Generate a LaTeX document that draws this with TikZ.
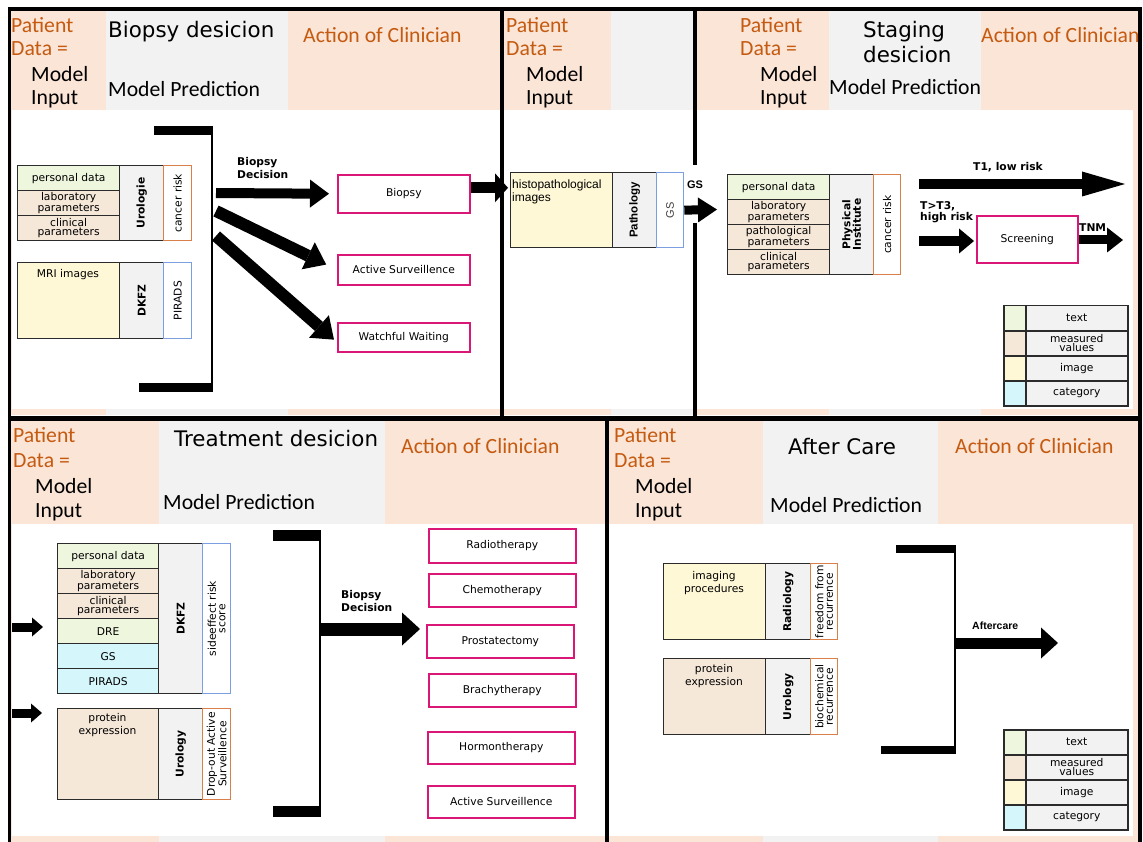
\documentclass[tikz,border=0pt]{standalone}
\usepackage{fontspec}
\setmainfont{DejaVu Sans}
\newfontfamily\calib{Carlito}
\newfontfamily\arialf{Liberation Sans}
\usetikzlibrary{arrows.meta,calc}
\definecolor{peach}{HTML}{FBE5D6}
\definecolor{lgray}{HTML}{F2F2F2}
\definecolor{hdrorange}{HTML}{C55A11}
\definecolor{ctext}{HTML}{EEF6DE}
\definecolor{cmeas}{HTML}{F6E8D9}
\definecolor{cimg}{HTML}{FEF8D6}
\definecolor{ccat}{HTML}{D5F6FA}
\definecolor{borange}{HTML}{D9804A}
\definecolor{bblue}{HTML}{7B9FE0}
\definecolor{bmag}{HTML}{DA1677}
\definecolor{boxline}{HTML}{2B2B2B}
\tikzset{
  hdr/.style={anchor=base west, inner sep=0pt, font=\calib\fontsize{21.7}{24}\selectfont},
  hdro/.style={hdr, text=hdrorange},
  ttl/.style={anchor=base west, inner sep=0pt, font=\fontsize{21.4}{24}\selectfont},
  cell/.style={draw=boxline, line width=1.3pt, anchor=north west, inner sep=0pt, align=center, font=\fontsize{10.7}{8.5}\selectfont},
  grayc/.style={cell, fill=lgray},
  pinkbox/.style={draw=bmag, line width=1.6pt, fill=white, anchor=north west, inner sep=0pt, font=\fontsize{10.7}{12}\selectfont},
  rlab/.style={rotate=90, inner sep=0pt, align=center, font=\fontsize{10.7}{9.5}\selectfont},
  rbold/.style={rotate=90, inner sep=0pt, align=center, font=\bfseries\fontsize{10.7}{11}\selectfont},
  blab/.style={anchor=base west, inner sep=0pt, font=\bfseries\fontsize{10.7}{12}\selectfont},
  txt/.style={inner sep=0pt, align=center, font=\fontsize{10.7}{13}\selectfont},
  bigarrow/.style n args={3}{draw=black, line width=#1, -{Triangle[length=#2, width=#3, line width=0pt]}},
  brbar/.style={fill=black},
  legc/.style={draw=boxline, line width=1.5pt, anchor=north west, inner sep=0pt, minimum width=22pt, minimum height=25pt},
  legl/.style={draw=boxline, line width=1.5pt, anchor=north west, inner sep=0pt, minimum width=102pt, minimum height=25pt, fill=lgray, align=center, font=\fontsize{10.7}{8.5}\selectfont},
}
\begin{document}
\begin{tikzpicture}[x=1pt,y=-1pt]
\useasboundingbox (0,0) rectangle (1143,842);
% ---------- backgrounds
\fill[peach] (11,11) rectangle (106,415);
\fill[lgray] (106,11) rectangle (288,415);
\fill[peach] (288,11) rectangle (501,415);
\fill[white] (12,110) rectangle (501,409);
\fill[peach] (503,11) rectangle (611,415);
\fill[lgray] (611,11) rectangle (694,415);
\fill[white] (503,110) rectangle (694,409);
\fill[peach] (696,11) rectangle (829,415);
\fill[lgray] (829,11) rectangle (981,415);
\fill[peach] (981,11) rectangle (1139,415);
\fill[white] (696,110) rectangle (1133,409);
\fill[peach] (11,421) rectangle (159,842);
\fill[lgray] (159,421) rectangle (385,842);
\fill[peach] (385,421) rectangle (606,842);
\fill[white] (12,524) rectangle (606,836);
\fill[peach] (609,421) rectangle (763,842);
\fill[lgray] (763,421) rectangle (938,842);
\fill[peach] (938,421) rectangle (1139,842);
\fill[white] (609,524) rectangle (1133,836);
% ---------- frames
\draw[line width=3.5pt] (8,9) -- (1141,9);
\draw[line width=3.5pt] (9.5,7.5) -- (9.5,842);
\fill (8,416) rectangle (1141,421);
\draw[line width=3.5pt] (502,9) -- (502,416);
\draw[line width=3.5pt] (695,9) -- (695,165);
\draw[line width=3.5pt] (695,223) -- (695,416);
\draw[line width=3.5pt] (1140,7.5) -- (1140,842);
\draw[line width=3.5pt] (607,421) -- (607,842);
% ---------- headers
\node[hdro] (h1a) at (11,33) {Patient};
\node[hdro] (h1b) at (11,56) {Data =};
\node[hdr] (h1c) at (31,82) {Model};
\node[hdr] (h1d) at (31,105) {Input};
\node[ttl] (h1t) at (108,38) {Biopsy desicion};
\node[hdr] (h1m) at (108,97) {Model Prediction};
\node[hdro] (h1o) at (303,43) {Action of Clinician};
\node[hdro] (h2a) at (506,33) {Patient};
\node[hdro] (h2b) at (506,56) {Data =};
\node[hdr] (h2c) at (526,82) {Model};
\node[hdr] (h2d) at (526,105) {Input};
\node[hdro] (h3a) at (740,33) {Patient};
\node[hdro] (h3b) at (740,56) {Data =};
\node[hdr] (h3c) at (760,82) {Model};
\node[hdr] (h3d) at (760,105) {Input};
\node[ttl] (h3t) at (863,38) {Staging};
\node[ttl] (h3u) at (863,63) {desicion};
\node[hdr] (h3m) at (829,95) {Model Prediction};
\node[hdro] (h3o) at (981,43) {Action of Clinician};
\node[hdro] (h4a) at (13,442) {Patient};
\node[hdro] (h4b) at (13,467) {Data =};
\node[hdr] (h4c) at (35,493) {Model};
\node[hdr] (h4d) at (35,517) {Input};
\node[ttl] (h4t) at (174,446) {Treatment desicion};
\node[hdr] (h4m) at (163,509) {Model Prediction};
\node[hdro] (h4o) at (401,453) {Action of Clinician};
\node[hdro] (h5a) at (614,442) {Patient};
\node[hdro] (h5b) at (614,467) {Data =};
\node[hdr] (h5c) at (635,493) {Model};
\node[hdr] (h5d) at (635,517) {Input};
\node[ttl] (h5t) at (788,454) {After Care};
\node[hdr] (h5m) at (770,512) {Model Prediction};
\node[hdro] (h5o) at (955,453) {Action of Clinician};
% ---------- panel 1
\node[cell, fill=ctext, minimum width=102pt, minimum height=25pt] (pd1) at (17,165) {personal data};
\node[cell, fill=cmeas, minimum width=102pt, minimum height=25pt] (lab1) at (17,190) {laboratory\\parameters};
\node[cell, fill=cmeas, minimum width=102pt, minimum height=25pt] (cl1) at (17,215) {clinical\\parameters};
\node[grayc, minimum width=44pt, minimum height=75pt] (uro1) at (119,165) {};
\node[rbold] (uro1t) at (uro1.center) {Urologie};
\node[cell, draw=borange, fill=white, minimum width=28pt, minimum height=75pt] (cr1) at (163,165) {};
\node[rlab] (cr1t) at (cr1.center) {cancer risk};
\node[cell, fill=cimg, minimum width=102pt, minimum height=76pt] (mri) at (17,262) {};
\node[txt] (mrit) at (68,275) {MRI images};
\node[grayc, minimum width=44pt, minimum height=76pt] (dkfz1) at (119,262) {};
\node[rbold] (dkfz1t) at (dkfz1.center) {DKFZ};
\node[cell, draw=bblue, fill=white, minimum width=28pt, minimum height=76pt] (pir1) at (163,262) {};
\node[rlab] (pir1t) at (pir1.center) {PIRADS};
\fill[brbar] (154,126) rectangle (213,135);
\fill[brbar] (139,383) rectangle (213,392);
\draw[line width=2pt] (212,126) -- (212,392);
\node[blab] (bd1a) at (237,166) {Biopsy};
\node[blab] (bd1b) at (237,179) {Decision};
\node[pinkbox, minimum width=132pt, minimum height=38pt] (biopsy) at (337,174) {Biopsy};
\node[pinkbox, minimum width=132pt, minimum height=30pt] (actsurv) at (337,254) {Active Surveillence};
\node[pinkbox, minimum width=132pt, minimum height=29pt] (watch) at (337,322) {Watchful Waiting};
\coordinate (b1s) at (216,193);
\coordinate (b2s) at (216,211);
\coordinate (b3s) at (216,236);
\draw[bigarrow={10pt}{19pt}{28pt}, shorten >=8pt] (b1s) -- (biopsy.west);
\draw[bigarrow={12pt}{20pt}{30pt}, shorten >=12pt] (b2s) -- (actsurv.west);
\draw[bigarrow={12pt}{20pt}{30pt}, shorten >=4pt] (b3s) -- ($(watch.west)+(0,5)$);
% ---------- panel 2
\node[cell, fill=cimg, minimum width=102pt, minimum height=75pt] (histo) at (510,172) {};
\node[anchor=base west, inner sep=0pt, align=left, font=\arialf\fontsize{12}{13}\selectfont] (histot1) at (512,189) {histopathological};
\node[anchor=base west, inner sep=0pt, font=\arialf\fontsize{12}{13}\selectfont] (histot2) at (512,202) {images};
\node[grayc, minimum width=44pt, minimum height=75pt] (patho) at (612,172) {};
\node[rotate=90, inner sep=0pt, font=\arialf\bfseries\fontsize{11.5}{12}\selectfont] (pathot) at (patho.center) {Pathology};
\node[cell, draw=bblue, fill=white, minimum width=27pt, minimum height=75pt] (gs) at (656,172) {};
\node[rotate=90, inner sep=0pt, text=darkgray, font=\arialf\fontsize{11}{12}\selectfont] (gst) at (gs.center) {GS};
\draw[bigarrow={11pt}{13pt}{29pt}, shorten >=2pt] ($(biopsy.east)+(0,-6)$) -- ($(biopsy.east -| histo.west)+(0,-6)$);
\coordinate (gsend) at (717,209.5);
\draw[bigarrow={9pt}{19pt}{25pt}] (gs.east) -- (gsend);
\node[inner sep=0pt, font=\arialf\bfseries\fontsize{11}{12}\selectfont] (gsl) at (695,185) {GS};
% ---------- panel 3
\node[cell, fill=ctext, minimum width=102pt, minimum height=25pt] (pd3) at (727,174) {personal data};
\node[cell, fill=cmeas, minimum width=102pt, minimum height=25pt] (lab3) at (727,199) {laboratory\\parameters};
\node[cell, fill=cmeas, minimum width=102pt, minimum height=25pt] (pp3) at (727,224) {pathological\\parameters};
\node[cell, fill=cmeas, minimum width=102pt, minimum height=25pt] (cl3) at (727,249) {clinical\\parameters};
\node[grayc, minimum width=44pt, minimum height=100pt] (phys) at (829,174) {};
\node[rbold, font=\bfseries\fontsize{10.7}{10.5}\selectfont] (physt) at (phys.center) {Physical\\Institute};
\node[cell, draw=borange, fill=white, minimum width=27pt, minimum height=100pt] (cr3) at (873,174) {};
\node[rlab] (cr3t) at (cr3.center) {cancer risk};
\coordinate (t1s) at (919,184);
\coordinate (t1e) at (1125,184);
\draw[bigarrow={10pt}{43pt}{25pt}] (t1s) -- (t1e);
\node[inner sep=0pt, font=\bfseries\fontsize{10.7}{12}\selectfont] (t1l) at (1008,167) {T1, low risk};
\node[blab] (t3la) at (920,210) {T>T3,};
\node[blab] (t3lb) at (920,221) {high risk};
\node[pinkbox, minimum width=101pt, minimum height=47pt] (screen) at (976,215) {Screening};
\coordinate (t3s) at (919,241);
\draw[bigarrow={10pt}{15pt}{25pt}, shorten >=2pt] (t3s) -- (t3s -| screen.west);
\coordinate (tnme) at (1123,240);
\draw[bigarrow={9pt}{16pt}{25pt}] (screen.east |- tnme) -- (tnme);
\node[anchor=west, inner sep=0pt, font=\bfseries\fontsize{10.7}{12}\selectfont] (tnml) at (1079,228) {TNM};
\node[legc, fill=ctext] (lg1a) at (1003,305) {};
\node[legl] (lg1b) at (1025,305) {text};
\node[legc, fill=cmeas] (lg2a) at (1003,330) {};
\node[legl] (lg2b) at (1025,330) {measured\\values};
\node[legc, fill=cimg] (lg3a) at (1003,355) {};
\node[legl] (lg3b) at (1025,355) {image};
\node[legc, fill=ccat] (lg4a) at (1003,380) {};
\node[legl] (lg4b) at (1025,380) {category};
% ---------- panel 4
\coordinate (l1s) at (12,627);
\coordinate (l1e) at (43,627);
\coordinate (l2s) at (12,713);
\coordinate (l2e) at (42,713);
\draw[bigarrow={9pt}{11pt}{19pt}] (l1s) -- (l1e);
\draw[bigarrow={9pt}{11pt}{19pt}] (l2s) -- (l2e);
\node[cell, fill=ctext, minimum width=101pt, minimum height=25pt] (pd4) at (57,543) {personal data};
\node[cell, fill=cmeas, minimum width=101pt, minimum height=25pt] (lab4) at (57,568) {laboratory\\parameters};
\node[cell, fill=cmeas, minimum width=101pt, minimum height=25pt] (cl4) at (57,593) {clinical\\parameters};
\node[cell, fill=ctext, minimum width=101pt, minimum height=25pt] (dre4) at (57,618) {DRE};
\node[cell, fill=ccat, minimum width=101pt, minimum height=25pt] (gs4) at (57,643) {GS};
\node[cell, fill=ccat, minimum width=101pt, minimum height=25pt] (pir4) at (57,668) {PIRADS};
\node[grayc, minimum width=44pt, minimum height=150pt] (dkfz4) at (158,543) {};
\node[rbold] (dkfz4t) at (dkfz4.center) {DKFZ};
\node[cell, draw=bblue, fill=white, minimum width=28pt, minimum height=150pt] (se4) at (202,543) {};
\node[rlab] (se4t) at (se4.center) {sideeffect risk\\score};
\node[cell, fill=cmeas, minimum width=101pt, minimum height=91pt] (prot4) at (57,708) {};
\node[txt, anchor=north] (prot4t) at (107.5,713) {protein\\expression};
\node[grayc, minimum width=44pt, minimum height=91pt] (uro4) at (158,708) {};
\node[rbold] (uro4t) at (uro4.center) {Urology};
\node[cell, draw=borange, fill=white, minimum width=28pt, minimum height=91pt] (do4) at (202,708) {};
\node[rlab] (do4t) at (do4.center) {Drop-out Active\\Surveillence};
\fill[brbar] (273,530) rectangle (321,541);
\fill[brbar] (273,806) rectangle (321,817);
\draw[line width=2pt] (320,530) -- (320,817);
\node[blab] (bd4a) at (341,598) {Biopsy};
\node[blab] (bd4b) at (341,611) {Decision};
\coordinate (b4s) at (321,629);
\coordinate (b4e) at (420,629);
\draw[bigarrow={13pt}{18pt}{33pt}] (b4s) -- (b4e);
\node[pinkbox, minimum width=147pt, minimum height=34pt] (radio) at (428,528) {Radiotherapy};
\node[pinkbox, minimum width=147pt, minimum height=33pt] (chemo) at (428,573) {Chemotherapy};
\node[pinkbox, minimum width=147pt, minimum height=33pt] (prost) at (426,624) {Prostatectomy};
\node[pinkbox, minimum width=147pt, minimum height=33pt] (brachy) at (428,673) {Brachytherapy};
\node[pinkbox, minimum width=147pt, minimum height=32pt] (hormon) at (427,731) {Hormontherapy};
\node[pinkbox, minimum width=147pt, minimum height=32pt] (as4) at (427,785) {Active Surveillence};
% ---------- panel 5
\node[cell, fill=cimg, minimum width=102pt, minimum height=76pt] (imgp) at (663,563) {};
\node[txt, anchor=north] (imgpt) at (714,571) {imaging\\procedures};
\node[grayc, minimum width=45pt, minimum height=76pt] (rad5) at (765,563) {};
\node[rbold] (rad5t) at (rad5.center) {Radiology};
\node[cell, draw=borange, fill=white, minimum width=27pt, minimum height=76pt] (ff5) at (810,563) {};
\node[rlab] (ff5t) at (ff5.center) {freedom from\\recurrence};
\node[cell, fill=cmeas, minimum width=102pt, minimum height=76pt] (prot5) at (663,658) {};
\node[txt, anchor=north] (prot5t) at (714,664) {protein\\expression};
\node[grayc, minimum width=45pt, minimum height=76pt] (uro5) at (765,658) {};
\node[rbold] (uro5t) at (uro5.center) {Urology};
\node[cell, draw=borange, fill=white, minimum width=27pt, minimum height=76pt] (bc5) at (810,658) {};
\node[rlab] (bc5t) at (bc5.center) {biochemical\\recurrence};
\fill[brbar] (896,545) rectangle (956,553);
\fill[brbar] (881,746) rectangle (956,754);
\draw[line width=2pt] (955,545) -- (955,754);
\coordinate (acs) at (956,643);
\coordinate (ace) at (1058,643);
\draw[bigarrow={11pt}{17pt}{31pt}] (acs) -- (ace);
\node[anchor=base west, inner sep=0pt, font=\arialf\bfseries\fontsize{10.5}{12}\selectfont] (acl) at (972,629) {Aftercare};
\node[legc, fill=ctext] (lh1a) at (1003,729) {};
\node[legl] (lh1b) at (1025,729) {text};
\node[legc, fill=cmeas] (lh2a) at (1003,754) {};
\node[legl] (lh2b) at (1025,754) {measured\\values};
\node[legc, fill=cimg] (lh3a) at (1003,779) {};
\node[legl] (lh3b) at (1025,779) {image};
\node[legc, fill=ccat] (lh4a) at (1003,804) {};
\node[legl] (lh4b) at (1025,804) {category};
\end{tikzpicture}
\end{document}
